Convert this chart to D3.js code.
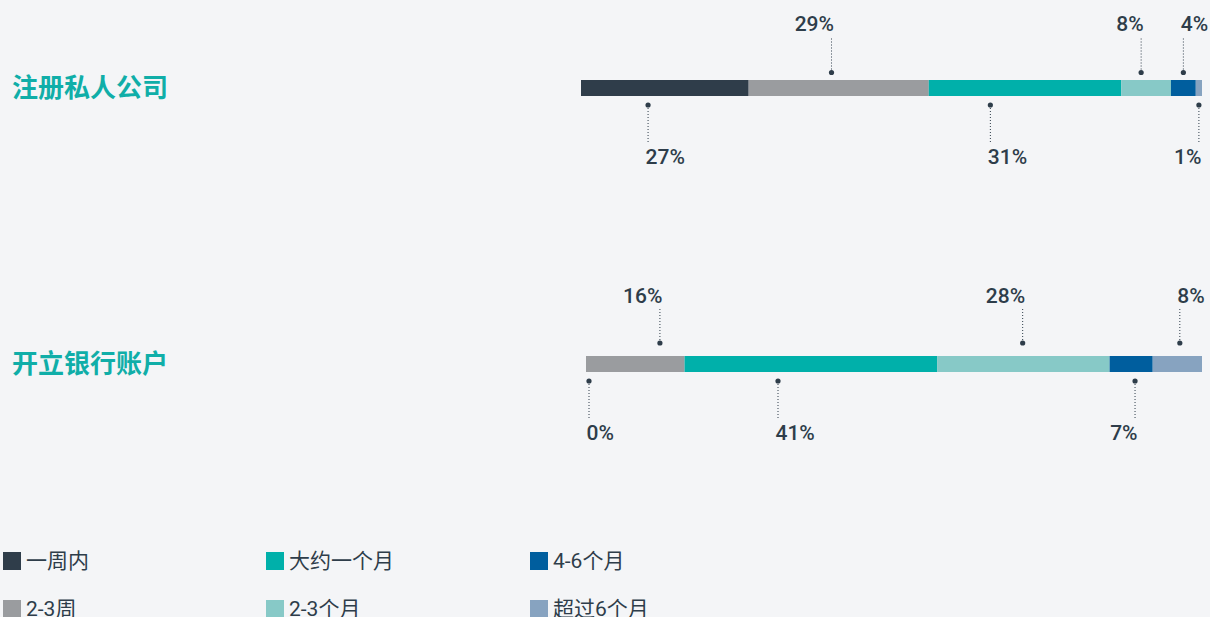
<!DOCTYPE html>
<html>
<head>
<meta charset="utf-8">
<script src="https://cdn.jsdelivr.net/npm/d3@7/dist/d3.min.js"></script>
<style>
  html, body { margin: 0; padding: 0; background: #f4f5f7; }
  svg { display: block; }
</style>
</head>
<body>
<svg id="chart" width="1210" height="617"></svg>
<script>
// Time taken for each task, share of respondents (%)
const categories = ["一周内", "2-3周", "大约一个月", "2-3个月", "4-6个月", "超过6个月"];
const tasks = ["注册私人公司", "开立银行账户"];
const companyValues = [27, 29, 31, 8, 4, 1];
const bankValues = [0, 16, 41, 28, 7, 8];
const valueLabels = [["27%", "29%", "31%", "8%", "4%", "1%"], ["0%", "16%", "41%", "28%", "7%", "8%"]];

const colors = ["#2f3d4a", "#9a9c9f", "#00b0aa", "#87c9c7", "#005e9e", "#87a3c0"];
const textColor = "#2e3d4a";

// Label placement for each segment: side, horizontal anchor, position inside segment
const placement = [
  [["below", "start", 0.40], ["above", "end", 0.46], ["below", "start", 0.32],
   ["above", "end", 0.40], ["above", "start", 0.50], ["below", "end", 0.50]],
  [["below", "start", 0.0], ["above", "end", 0.75], ["below", "start", 0.37],
   ["above", "end", 0.496], ["below", "end", 0.59], ["above", "start", 0.55]]
];

const rowsLayout = [
  { x0: 581, x1: 1202, top: 80, dotAbove: 7.5, textAbove: 6 },
  { x0: 586, x1: 1202, top: 356, dotAbove: 13, textAbove: 4 }
];
const barH = 16;

const svg = d3.select("#chart");
const series = [companyValues, bankValues];

series.forEach((vals, r) => {
  const L = rowsLayout[r];
  const x = d3.scaleLinear().domain([0, d3.sum(vals)]).range([L.x0, L.x1]);
  const stacked = [];
  let acc = 0;
  vals.forEach((v, i) => { stacked.push({ i, v, s: acc, e: acc + v }); acc += v; });

  const g = svg.append("g");

  // task name on the left
  g.append("text")
    .attr("x", 12)
    .attr("y", L.top + barH / 2 + 9)
    .attr("font-family", "'Noto Sans CJK SC', sans-serif")
    .attr("font-weight", 700)
    .attr("font-size", 26)
    .attr("fill", "#10aea8")
    .text(tasks[r]);

  // stacked segments
  g.selectAll("rect.seg").data(stacked).join("rect")
    .attr("class", "seg")
    .attr("x", d => x(d.s))
    .attr("y", L.top)
    .attr("width", d => Math.max(0, x(d.e) - x(d.s)))
    .attr("height", barH)
    .attr("fill", d => colors[d.i]);

  // value callouts
  stacked.forEach(d => {
    const [side, anchor, frac] = placement[r][d.i];
    let cx = x(d.s) + (x(d.e) - x(d.s)) * frac;
    cx = Math.max(L.x0 + 3, Math.min(L.x1 - 3, cx));
    let dotY, lineEnd, textY;
    if (side === "above") {
      dotY = L.top - L.dotAbove;
      lineEnd = dotY - 36;
      textY = lineEnd - L.textAbove;
    } else {
      dotY = L.top + barH + 9;
      lineEnd = dotY + 37;
      textY = L.top + barH + 68;
    }
    g.append("line")
      .attr("x1", cx).attr("x2", cx)
      .attr("y1", dotY).attr("y2", lineEnd)
      .attr("stroke", "#2e3d4a")
      .attr("stroke-width", 1)
      .attr("stroke-dasharray", "1,2");
    g.append("circle")
      .attr("cx", cx).attr("cy", dotY).attr("r", 2.6)
      .attr("fill", textColor);
    g.append("text")
      .attr("x", anchor === "start" ? cx - 2.5 : cx + 2.5)
      .attr("y", textY)
      .attr("text-anchor", anchor)
      .attr("font-family", "Roboto, sans-serif")
      .attr("font-weight", 500)
      .attr("font-size", 21)
      .attr("fill", textColor)
      .text(valueLabels[r][d.i]);
  });
});

// legend: three columns, two rows (second row runs past the bottom edge)
const legendCols = [3, 266, 530];
const legendRows = [552, 600];
const legend = svg.append("g");
categories.forEach((c, i) => {
  const col = Math.floor(i / 2), row = i % 2;
  const lx = legendCols[col], ly = legendRows[row];
  legend.append("rect")
    .attr("x", lx).attr("y", ly).attr("width", 18).attr("height", 18)
    .attr("fill", colors[i]);
  legend.append("text")
    .attr("x", lx + 23)
    .attr("y", ly + 16)
    .attr("font-family", "Roboto, 'Noto Sans CJK SC', sans-serif")
    .attr("font-size", 21)
    .attr("fill", textColor)
    .text(c);
});
</script>
</body>
</html>
